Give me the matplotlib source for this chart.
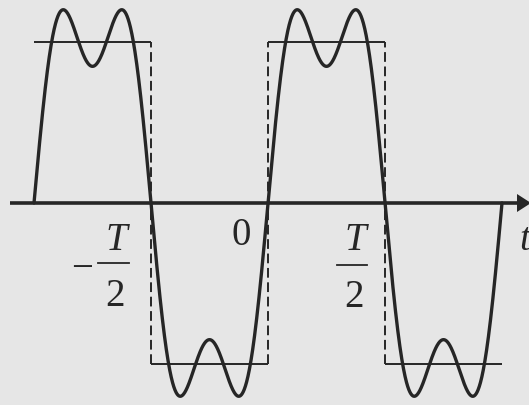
import matplotlib
matplotlib.use('Agg')
from matplotlib import pyplot as plt
from matplotlib import patches
import numpy as np

# square wave of period T = 1, levels per half period from t = -T to T
edges = [-1.0, -0.5, 0.0, 0.5, 1.0]
levels = [1, -1, 1, -1]
jumps = [-0.5, 0.0, 0.5]

# first two Fourier terms of the square wave
harmonics = [1, 3]
coeffs = [4 / np.pi, 4 / (3 * np.pi)]

BG = '#e6e6e6'
INK = '#262626'
W, H = 529, 406

fig = plt.figure(figsize=(W / 100, H / 100), dpi=100, facecolor=BG)

# main axes in units of t/T and amplitude
ax = fig.add_axes([0, 0, 1, 1])
ax.set_facecolor(BG)
ax.set_xlim(-268 / 234, (W - 268) / 234)
ax.set_ylim(-(H - 204) / 161, 204 / 161)
ax.axis('off')

# square wave: solid plateaus, dashed jumps
for a, b, lv in zip(edges[:-1], edges[1:], levels):
    ax.plot([a, b], [lv, lv], color=INK, lw=1.4, solid_capstyle='butt')
for j in jumps:
    ax.plot([j, j], [-1, 1], color=INK, lw=1.4, ls=(0, (5, 2.4)))

# partial Fourier sum
t = np.linspace(edges[0], edges[-1], 2000)
f = sum(c * np.sin(2 * np.pi * k * t) for k, c in zip(harmonics, coeffs))
ax.plot(t, f, color=INK, lw=2.4, solid_capstyle='round')

# overlay in pixel coordinates for the time axis and labels
ov = fig.add_axes([0, 0, 1, 1])
ov.set_xlim(0, W)
ov.set_ylim(H, 0)
ov.axis('off')
ov.patch.set_alpha(0)

ov.plot([10, 520], [204, 204], color=INK, lw=2.6, solid_capstyle='butt')
ov.add_patch(patches.Polygon([[517, 195], [531, 204], [517, 213]],
                             closed=True, color=INK, lw=0))

fs = 28
serif = 'Liberation Serif'
ov.text(82, 279, '\u2212', fontsize=fs, family=serif, color=INK,
        ha='center', va='baseline')
ov.text(116, 250, 'T', fontsize=fs, family=serif, style='italic', color=INK,
        ha='center', va='baseline')
ov.plot([98, 129], [264, 264], color=INK, lw=1.3)
ov.text(115, 306, '2', fontsize=fs, family=serif, color=INK,
        ha='center', va='baseline')

ov.text(241, 245, '0', fontsize=fs, family=serif, color=INK,
        ha='center', va='baseline')

ov.text(355, 250, 'T', fontsize=fs, family=serif, style='italic', color=INK,
        ha='center', va='baseline')
ov.plot([337, 367], [266, 266], color=INK, lw=1.3)
ov.text(354, 307, '2', fontsize=fs, family=serif, color=INK,
        ha='center', va='baseline')

ov.text(519, 250, 't', fontsize=fs, family=serif, style='italic', color=INK,
        ha='left', va='baseline')

fig.savefig('out.png', dpi=100, facecolor=BG)
